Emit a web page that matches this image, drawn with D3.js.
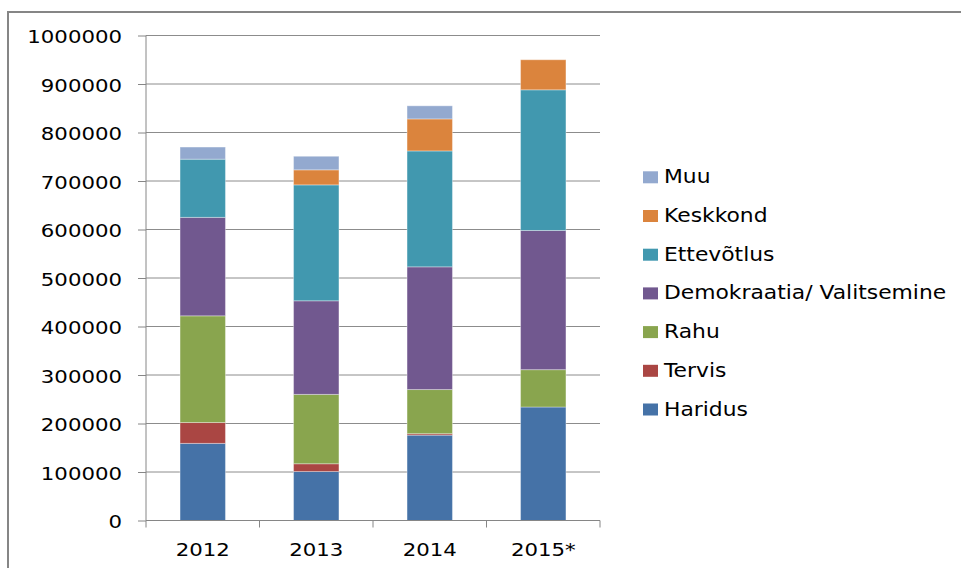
<!DOCTYPE html>
<html><head><meta charset="utf-8">
<script src="https://cdn.jsdelivr.net/npm/d3@7"></script>
<style>body{margin:0;background:#fff}svg{display:block}</style>
</head><body>
<svg id="c" width="961" height="568"></svg>
<script>
const categories = ["2012", "2013", "2014", "2015*"];
const seriesNames = ["Haridus", "Tervis", "Rahu", "Demokraatia/ Valitsemine", "Ettevõtlus", "Keskkond", "Muu"];
const haridus   = [159000, 101000, 176000, 234000];
const tervis    = [43000, 16000, 3000, 0];
const rahu      = [220000, 143000, 91000, 77000];
const demokraatia = [203000, 193000, 253000, 287000];
const ettevotlus = [120000, 239000, 239000, 290000];
const keskkond  = [0, 31000, 66000, 62000];
const muu       = [25000, 28000, 27000, 0];
const yTicks = [0, 100000, 200000, 300000, 400000, 500000, 600000, 700000, 800000, 900000, 1000000];
const colors = ["#4572A7", "#AA4643", "#89A54E", "#71588F", "#4198AF", "#DB843D", "#93A9CF"];

const seriesValues = [haridus, tervis, rahu, demokraatia, ettevotlus, keskkond, muu];
const rows = categories.map((c, i) => {
  const r = {cat: c};
  seriesNames.forEach((s, k) => r[s] = seriesValues[k][i]);
  return r;
});

const svg = d3.select("#c");
const L = 146, R = 600, T = 35.5, B = 520.5;
const FONT = "DejaVu Sans", FS = 18.5, SX = 1.15;

// outer frame
svg.append("rect").attr("x", 8).attr("y", 12).attr("width", 1000).attr("height", 700)
  .attr("fill", "none").attr("stroke", "#868686").attr("stroke-width", 2);

const x = d3.scaleBand().domain(categories).range([L, R]).paddingInner(0.6).paddingOuter(0.3);
const y = d3.scaleLinear().domain([0, 1000000]).range([B, T]);

// gridlines
svg.append("g").selectAll("line").data(yTicks.filter(d => d > 0)).join("line")
  .attr("x1", L).attr("x2", R).attr("y1", d => y(d)).attr("y2", d => y(d))
  .attr("stroke", "#8c8c8c").attr("stroke-width", 1);

// bars
const stack = d3.stack().keys(seriesNames)(rows);
svg.append("g").selectAll("g").data(stack).join("g")
  .attr("fill", (d, i) => colors[i])
  .selectAll("rect").data(d => d.filter(p => p[1] - p[0] > 0)).join("rect")
  .attr("x", d => x(d.data.cat)).attr("width", x.bandwidth())
  .attr("y", d => y(d[1])).attr("height", d => y(d[0]) - y(d[1]))
  .attr("stroke", "#ffffff").attr("stroke-opacity", 0.35).attr("stroke-width", 1);

// y axis
const yAxis = d3.axisLeft(y).tickValues(yTicks).tickSize(8).tickPadding(0).tickFormat(d3.format("d"));
const gy = svg.append("g").attr("transform", `translate(${L},0)`).call(yAxis);
gy.select(".domain").attr("stroke", "#868686").attr("d", `M0,${T}V${B}`);
gy.selectAll(".tick line").attr("stroke", "#868686");
gy.selectAll(".tick text").attr("x", null).attr("dy", null)
  .attr("font-family", FONT).attr("font-size", FS).attr("fill", "#000")
  .attr("text-anchor", "end").attr("dominant-baseline", "central")
  .attr("transform", `translate(-24,1) scale(${SX},1)`);

// x axis
const gx = svg.append("g").attr("transform", `translate(0,${B})`);
gx.append("line").attr("x1", L).attr("x2", R).attr("stroke", "#868686");
const bounds = [L, ...categories.map(c => x(c) + x.bandwidth() / 2 + x.step() / 2)];
gx.selectAll(".tk").data(bounds).join("line").attr("class", "tk")
  .attr("x1", d => d).attr("x2", d => d).attr("y1", 0).attr("y2", 7).attr("stroke", "#868686");
gx.selectAll("text").data(categories).join("text")
  .attr("transform", d => `translate(${x(d) + x.bandwidth() / 2},35.5) scale(${SX},1)`)
  .attr("text-anchor", "middle")
  .attr("font-family", FONT).attr("font-size", FS).attr("fill", "#000").text(d => d);

// legend (reversed order)
const legendItems = seriesNames.map((s, i) => ({name: s, color: colors[i]})).reverse();
const lg = svg.append("g");
const li = lg.selectAll("g").data(legendItems).join("g")
  .attr("transform", (d, i) => `translate(643,${183.3 + i * 38.7})`);
li.append("rect").attr("x", 0).attr("y", -12).attr("width", 15).attr("height", 12).attr("fill", d => d.color);
li.append("text").attr("transform", `translate(21,0) scale(1.12,1)`)
  .attr("font-family", FONT).attr("font-size", 19.5).attr("fill", "#000").text(d => d.name);
</script>
</body></html>
